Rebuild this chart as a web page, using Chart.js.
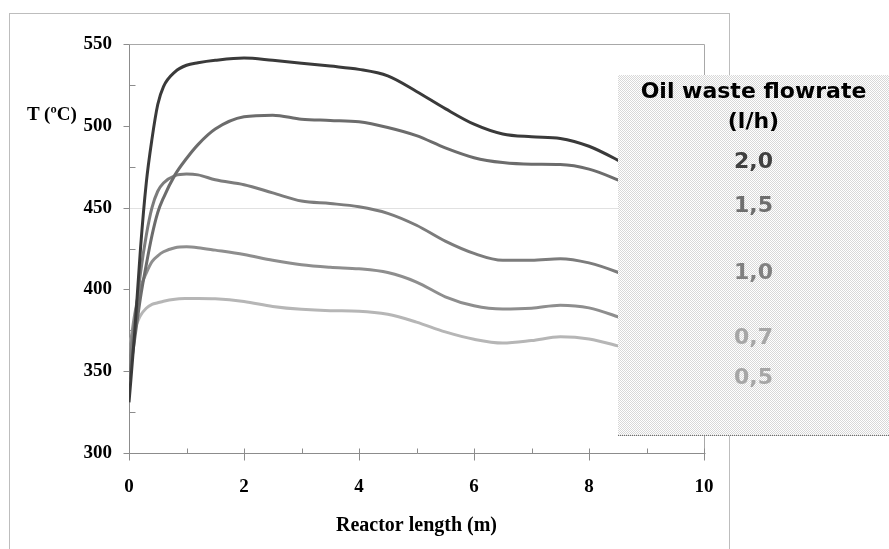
<!DOCTYPE html>
<html>
<head>
<meta charset="utf-8">
<script src="https://cdn.jsdelivr.net/npm/chart.js@4.4.0/dist/chart.umd.min.js"></script>
<style>
body{margin:0;background:#fff;}
#wrap{position:relative;width:889px;height:549px;overflow:hidden;background:#fff;}
#frame{position:absolute;left:9px;top:13px;width:719px;height:600px;border:1px solid #bdbdbd;}
#chart{position:absolute;left:0;top:0;}
#ytitle{position:absolute;left:27px;top:103px;font:bold 19px "Liberation Serif";color:#000;white-space:nowrap;}
#legend{position:absolute;left:618px;top:75px;width:271px;height:360px;
  background:repeating-conic-gradient(#d8d8d8 0 25%,#fff 0 50%) 0 0/2px 2px;
  border-bottom:1px dotted #6e6e6e;font-family:"DejaVu Sans";font-weight:bold;}
#legend div{position:absolute;left:0;width:100%;text-align:center;line-height:26px;white-space:nowrap;}
</style>
</head>
<body>
<div id="wrap">
  <div id="frame"></div>
  <canvas id="chart" width="889" height="549"></canvas>
  <div id="ytitle">T (ºC)</div>
  <div id="legend"></div>
</div>
<script>
// longitud del reactor (m)
var lengthM = [0, 0.1, 0.2, 0.3, 0.4, 0.5, 0.6, 0.8, 1.0, 1.2, 1.5, 2.0, 2.5, 3.0, 3.5, 4.0, 4.5, 5.0, 5.5, 6.0, 6.5, 7.0, 7.5, 8.0, 8.5, 8.6];

// temperatura (ºC) para cada caudal
var flow20 = [331, 374, 425, 465, 492, 513, 524, 533, 537, 538.5, 540, 541.4, 540, 538.3, 536.5, 534.5, 530.5, 521, 510.5, 501, 495, 493.3, 492.3, 487.5, 479, 477];
var flow15 = [345, 370, 395, 415, 433, 447, 456, 470, 480, 488.5, 498, 505.5, 506.5, 504, 503.3, 502.5, 499, 494, 486.5, 480.5, 477.5, 476.5, 476.3, 473.5, 467, 465.5];
var flow10 = [352, 380, 410, 433, 450, 460, 465, 469.5, 470.5, 470, 467, 464, 459, 454, 452.5, 450.5, 446.5, 439.2, 429.5, 422, 417.8, 417.8, 418.8, 416.2, 410.5, 409];
var flow07 = [360, 385, 401, 410, 417, 420.5, 423, 425.5, 426, 425.5, 424, 421.3, 417.8, 415, 413.5, 412.6, 410.3, 404.5, 395.5, 390, 388, 388.5, 390.3, 388.7, 383.3, 382];
var flow05 = [367, 376, 384, 388.5, 390.8, 391.8, 392.8, 394, 394.4, 394.5, 394.3, 392.6, 389.6, 387.8, 387, 386.7, 384.8, 380, 374, 369.5, 367.2, 368.7, 371, 369.7, 365.5, 364.5];

var flowLabels = ['2,0', '1,5', '1,0', '0,7', '0,5'];
var legendTitle = ['Oil waste flowrate', '(l/h)'];

var series = [flow20, flow15, flow10, flow07, flow05];
var colores = ['#3a3a3a', '#6c6c6c', '#7c7c7c', '#8e8e8e', '#b6b6b6'];
var textoColores = ['#404040', '#6e6e6e', '#808080', '#a6a6a6', '#a6a6a6'];
var textoY = [161, 205, 272, 337, 377];

/*
* Leyenda en html encima del canvas
*/
var leg = document.getElementById('legend');
function addText(txt, cy, color, size) {
  var d = document.createElement('div');
  d.textContent = txt;
  d.style.top = (cy - 75 - 13) + 'px';
  d.style.color = color;
  d.style.fontSize = size + 'px';
  leg.appendChild(d);
}
addText(legendTitle[0], 91, '#000', 22);
addText(legendTitle[1], 121, '#000', 22);
for (var i = 0; i < flowLabels.length; i++) {
  addText(flowLabels[i], textoY[i], textoColores[i], 22);
}

// ejes al estilo excel: lineas, marcas mayores y menores
var excelAxes = {
  id: 'excelAxes',
  beforeDatasetsDraw: function(chart) {
    var ctx = chart.ctx, x = chart.scales.x, y = chart.scales.y;
    var px = function(v) { return Math.round(x.getPixelForValue(v)) + 0.5; };
    var py = function(v) { return Math.round(y.getPixelForValue(v)) + 0.5; };
    var L = px(0), R = px(10), T = py(550), B = py(300);
    ctx.save();
    ctx.lineWidth = 1;
    // linea de rejilla punteada
    ctx.strokeStyle = '#c2c2c2';
    ctx.setLineDash([1, 1]);
    ctx.beginPath(); ctx.moveTo(L, py(450)); ctx.lineTo(R, py(450)); ctx.stroke();
    ctx.setLineDash([]);
    // borde superior y derecho
    ctx.strokeStyle = '#a8a8a8';
    ctx.beginPath(); ctx.moveTo(L, T); ctx.lineTo(R, T); ctx.lineTo(R, B); ctx.stroke();
    // ejes
    ctx.strokeStyle = '#8c8c8c';
    ctx.beginPath(); ctx.moveTo(L, T); ctx.lineTo(L, B); ctx.lineTo(R + 1, B); ctx.stroke();
    ctx.beginPath();
    for (var t = 300; t <= 550; t += 25) {
      if (t % 50 === 0) { ctx.moveTo(L - 6, py(t)); ctx.lineTo(L, py(t)); }
      else { ctx.moveTo(L, py(t)); ctx.lineTo(L + 6, py(t)); }
    }
    for (var k = 0; k <= 10; k++) {
      if (k % 2 === 0) { ctx.moveTo(px(k), B - 5); ctx.lineTo(px(k), B + 7); }
      else { ctx.moveTo(px(k), B - 5); ctx.lineTo(px(k), B); }
    }
    ctx.stroke();
    ctx.restore();
  }
};

var datasets = series.map(function(s, i) {
  return {
    label: flowLabels[i],
    data: lengthM.map(function(v, j) { return {x: v, y: s[j]}; }),
    borderColor: colores[i],
    borderWidth: 3,
    pointRadius: 0,
    fill: false,
    cubicInterpolationMode: 'monotone'
  };
});

new Chart(document.getElementById('chart'), {
  type: 'line',
  data: {datasets: datasets},
  options: {
    responsive: false,
    animation: false,
    layout: {padding: {top: 44, left: 0, right: 185, bottom: 0}},
    plugins: {legend: {display: false}, tooltip: {enabled: false}},
    scales: {
      x: {
        type: 'linear', min: 0, max: 10,
        grid: {display: false, drawTicks: false}, border: {display: false},
        ticks: {stepSize: 2, padding: 23, color: '#000', font: {family: 'Liberation Serif', weight: 'bold', size: 19}},
        title: {display: true, text: 'Reactor length (m)', color: '#000',
          font: {family: 'Liberation Serif', weight: 'bold', size: 20}, padding: {top: 0, bottom: 11}},
        afterFit: function(s) { s.height = 96; }
      },
      y: {
        min: 300, max: 550,
        grid: {display: false, drawTicks: false}, border: {display: false},
        ticks: {stepSize: 50, padding: 17, color: '#000', font: {family: 'Liberation Serif', weight: 'bold', size: 19}},
        afterFit: function(s) { s.width = 129; }
      }
    }
  },
  plugins: [excelAxes]
});
</script>
</body>
</html>
